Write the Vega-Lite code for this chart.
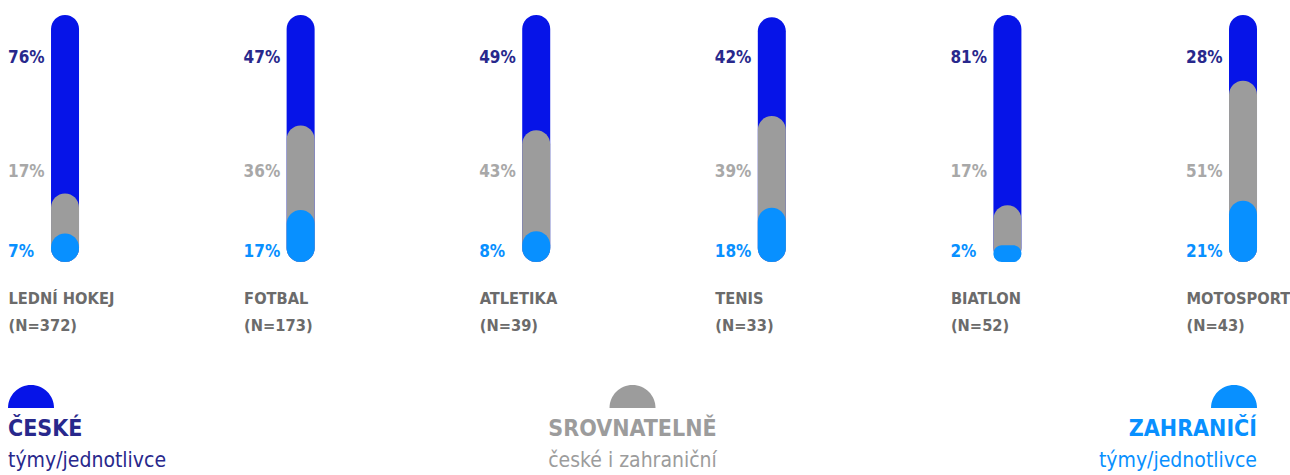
{
  "$schema": "https://vega.github.io/schema/vega-lite/v6.json",
  "padding": {"left": 8, "top": 15, "right": 0, "bottom": 0},
  "bounds": "flush",
  "spacing": 96,
  "background": "white",
  "config": {
    "view": {"stroke": null},
    "axis": {"grid": false, "domain": false, "ticks": false, "tickSize": 0, "title": null}
  },
  "datasets": {
    "sporty": [
      {"sport": "LEDNÍ HOKEJ (N=372)", "kategorie": "české", "poradi": 1, "podil": 0.76},
      {"sport": "LEDNÍ HOKEJ (N=372)", "kategorie": "srovnatelně", "poradi": 2, "podil": 0.17},
      {"sport": "LEDNÍ HOKEJ (N=372)", "kategorie": "zahraniční", "poradi": 3, "podil": 0.07},
      {"sport": "FOTBAL (N=173)", "kategorie": "české", "poradi": 1, "podil": 0.47},
      {"sport": "FOTBAL (N=173)", "kategorie": "srovnatelně", "poradi": 2, "podil": 0.36},
      {"sport": "FOTBAL (N=173)", "kategorie": "zahraniční", "poradi": 3, "podil": 0.17},
      {"sport": "ATLETIKA (N=39)", "kategorie": "české", "poradi": 1, "podil": 0.49},
      {"sport": "ATLETIKA (N=39)", "kategorie": "srovnatelně", "poradi": 2, "podil": 0.43},
      {"sport": "ATLETIKA (N=39)", "kategorie": "zahraniční", "poradi": 3, "podil": 0.08},
      {"sport": "TENIS (N=33)", "kategorie": "české", "poradi": 1, "podil": 0.42},
      {"sport": "TENIS (N=33)", "kategorie": "srovnatelně", "poradi": 2, "podil": 0.39},
      {"sport": "TENIS (N=33)", "kategorie": "zahraniční", "poradi": 3, "podil": 0.18},
      {"sport": "BIATLON (N=52)", "kategorie": "české", "poradi": 1, "podil": 0.81},
      {"sport": "BIATLON (N=52)", "kategorie": "srovnatelně", "poradi": 2, "podil": 0.17},
      {"sport": "BIATLON (N=52)", "kategorie": "zahraniční", "poradi": 3, "podil": 0.02},
      {"sport": "MOTOSPORT (N=43)", "kategorie": "české", "poradi": 1, "podil": 0.28},
      {"sport": "MOTOSPORT (N=43)", "kategorie": "srovnatelně", "poradi": 2, "podil": 0.51},
      {"sport": "MOTOSPORT (N=43)", "kategorie": "zahraniční", "poradi": 3, "podil": 0.21}
    ],
    "legenda": [
      {"kategorie": "české", "nazev": "ČESKÉ", "popis": "týmy/jednotlivce"},
      {"kategorie": "srovnatelně", "nazev": "SROVNATELNĚ", "popis": "české i zahraniční"},
      {"kategorie": "zahraniční", "nazev": "ZAHRANIČÍ", "popis": "týmy/jednotlivce"}
    ]
  },
  "vconcat": [
    {
      "width": 1249,
      "height": 235,
      "data": {"name": "sporty"},
      "transform": [
        {
          "window": [{"op": "sum", "field": "podil", "as": "kumul"}],
          "groupby": ["sport"],
          "sort": [{"field": "poradi", "order": "descending"}],
          "frame": [null, 0]
        }
      ],
      "encoding": {
        "x": {
          "field": "sport",
          "type": "nominal",
          "sort": null,
          "scale": {"type": "point", "padding": 0.1507, "align": 0.803},
          "axis": {
            "labelAngle": 0,
            "labelAlign": "left",
            "labelBaseline": "top",
            "labelOffset": -57,
            "labelPadding": 28,
            "labelLineHeight": 27,
            "labelFont": "DejaVu Sans Condensed, Roboto Condensed, Roboto",
            "labelFontSize": 16.3,
            "labelFontWeight": "bold",
            "labelColor": "#6b6b6b",
            "labelOverlap": false,
            "labelBound": false,
            "labelFlush": false,
            "labelLimit": 300,
            "labelExpr": "[slice(datum.label, 0, indexof(datum.label, ' (')), slice(datum.label, indexof(datum.label, ' (') + 1)]"
          }
        }
      },
      "layer": [
        {
          "mark": {"type": "bar", "width": 28, "cornerRadius": 14, "yOffset": -12},
          "encoding": {
            "y": {"field": "kumul", "type": "quantitative", "stack": null, "scale": {"domain": [0, 1], "nice": false, "zero": true}, "axis": null},
            "y2": {"datum": 0},
            "color": {
              "field": "kategorie",
              "type": "nominal",
              "scale": {"domain": ["české", "srovnatelně", "zahraniční"], "range": ["#0614e8", "#9c9c9c", "#0890ff"]},
              "legend": null
            },
            "order": {"field": "poradi", "type": "quantitative"}
          }
        },
        {
          "transform": [{"filter": "datum.poradi == 1"}],
          "mark": {"type": "text", "align": "left", "baseline": "middle", "dx": -57, "font": "DejaVu Sans Condensed, Roboto Condensed, Roboto", "fontSize": 17, "fontWeight": "bold", "color": "#28288c"},
          "encoding": {
            "y": {"datum": 0.868, "type": "quantitative"},
            "text": {"field": "podil", "type": "quantitative", "format": ".0%"}
          }
        },
        {
          "transform": [{"filter": "datum.poradi == 2"}],
          "mark": {"type": "text", "align": "left", "baseline": "middle", "dx": -57, "font": "DejaVu Sans Condensed, Roboto Condensed, Roboto", "fontSize": 17, "fontWeight": "bold", "color": "#a8a8a8"},
          "encoding": {
            "y": {"datum": 0.383, "type": "quantitative"},
            "text": {"field": "podil", "type": "quantitative", "format": ".0%"}
          }
        },
        {
          "transform": [{"filter": "datum.poradi == 3"}],
          "mark": {"type": "text", "align": "left", "baseline": "middle", "dx": -57, "font": "DejaVu Sans Condensed, Roboto Condensed, Roboto", "fontSize": 17, "fontWeight": "bold", "color": "#0890ff"},
          "encoding": {
            "y": {"datum": 0.043, "type": "quantitative"},
            "text": {"field": "podil", "type": "quantitative", "format": ".0%"}
          }
        }
      ]
    },
    {
      "width": 1249,
      "height": 100,
      "data": {"name": "legenda"},
      "encoding": {
        "x": {"field": "kategorie", "type": "nominal", "sort": null, "scale": {"type": "point", "padding": 0}, "axis": null}
      },
      "layer": [
        {
          "mark": {"type": "point", "filled": true, "size": 2116, "opacity": 1, "strokeWidth": 0},
          "encoding": {
            "shape": {
              "field": "kategorie",
              "type": "nominal",
              "scale": {"domain": ["české", "srovnatelně", "zahraniční"], "range": ["M 0 0 A 1 1 0 0 1 2 0 Z", "M -1 0 A 1 1 0 0 1 1 0 Z", "M -2 0 A 1 1 0 0 1 0 0 Z"]},
              "legend": null
            },
            "color": {
              "field": "kategorie",
              "type": "nominal",
              "scale": {"domain": ["české", "srovnatelně", "zahraniční"], "range": ["#0614e8", "#9c9c9c", "#0890ff"]},
              "legend": null
            }
          }
        },
        {
          "mark": {
            "type": "text",
            "baseline": "alphabetic",
            "dy": 28,
            "align": {"expr": "datum.kategorie == 'české' ? 'left' : datum.kategorie == 'srovnatelně' ? 'center' : 'right'"},
            "font": "DejaVu Sans Condensed, Roboto Condensed, Roboto",
            "fontSize": 23,
            "fontWeight": "bold"
          },
          "encoding": {
            "text": {"field": "nazev", "type": "nominal"},
            "color": {
              "field": "kategorie",
              "type": "nominal",
              "scale": {"domain": ["české", "srovnatelně", "zahraniční"], "range": ["#28288c", "#9c9c9c", "#0890ff"]},
              "legend": null
            }
          }
        },
        {
          "mark": {
            "type": "text",
            "baseline": "alphabetic",
            "dy": 59,
            "align": {"expr": "datum.kategorie == 'české' ? 'left' : datum.kategorie == 'srovnatelně' ? 'center' : 'right'"},
            "font": "DejaVu Sans Condensed, Roboto Condensed, Roboto",
            "fontSize": 21,
            "fontWeight": "normal"
          },
          "encoding": {
            "text": {"field": "popis", "type": "nominal"},
            "color": {
              "field": "kategorie",
              "type": "nominal",
              "scale": {"domain": ["české", "srovnatelně", "zahraniční"], "range": ["#28288c", "#9c9c9c", "#0890ff"]},
              "legend": null
            }
          }
        }
      ],
      "resolve": {"scale": {"color": "independent"}}
    }
  ]
}
